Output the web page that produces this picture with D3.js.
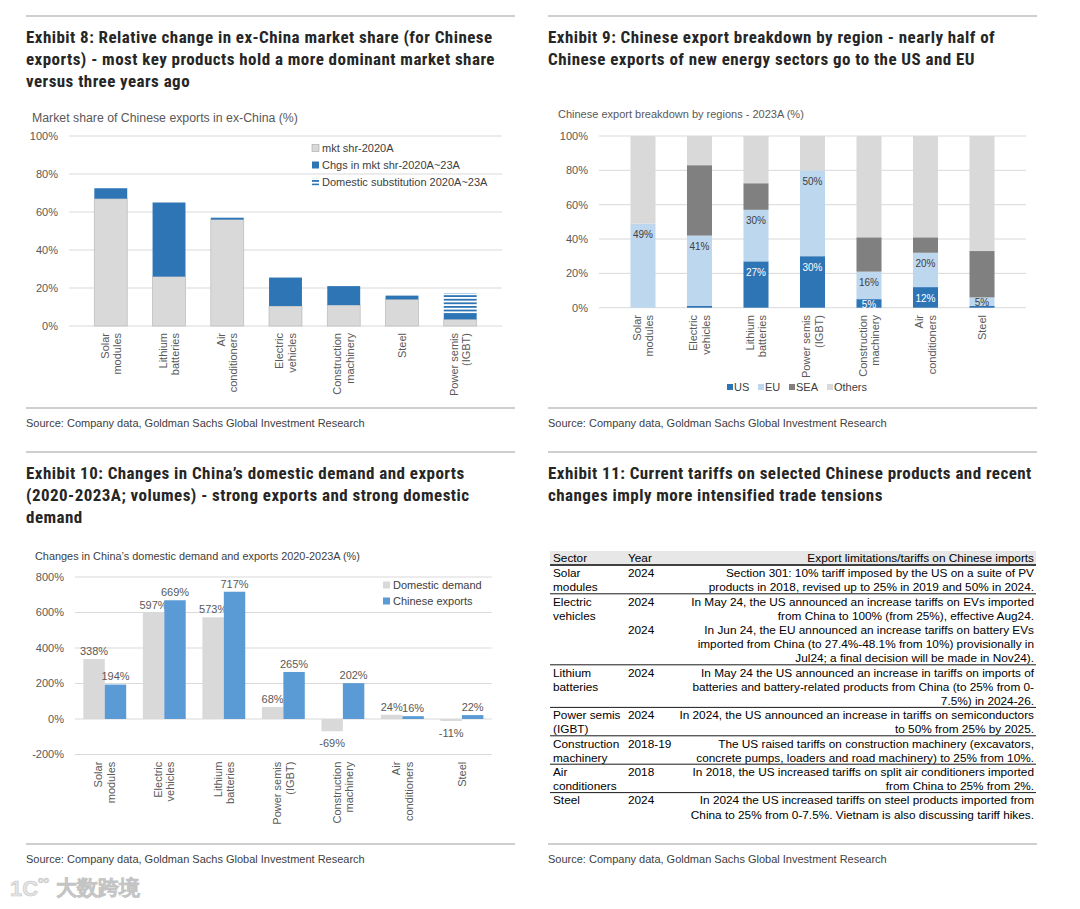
<!DOCTYPE html>
<html>
<head>
<meta charset="utf-8">
<script src="https://cdn.jsdelivr.net/npm/d3@7/dist/d3.min.js"></script>
<style>
  html, body { margin: 0; padding: 0; background: #fff; }
  svg { display: block; }
  text { font-family: "Liberation Sans", Arial, sans-serif; }
  .title { font-family: "Liberation Sans Narrow", "Roboto Condensed", "DejaVu Sans Condensed", sans-serif; font-weight: bold; font-size: 17px; letter-spacing: 0.45px; fill: #262626; }
</style>
</head>
<body>
<svg id="root" width="1080" height="909"></svg>
<script>
// ---------------- DATA ----------------
// Exhibit 8
const ex8Categories = [["Solar","modules"],["Lithium","batteries"],["Air","conditioners"],["Electric","vehicles"],["Construction","machinery"],["Steel"],["Power semis","(IGBT)"]];
const ex8Share2020 = [67, 26, 56, 10.5, 11, 14, 3.5];
const ex8Change = [5.5, 39, 1, 15, 10, 2, 3.3];
const ex8DomesticSub = [0, 0, 0, 0, 0, 0, 10.5];
const ex8Ticks = [0, 20, 40, 60, 80, 100];
const ex8Legend = ["mkt shr-2020A", "Chgs in mkt shr-2020A~23A", "Domestic substitution 2020A~23A"];

// Exhibit 9
const ex9Categories = [["Solar","modules"],["Electric","vehicles"],["Lithium","batteries"],["Power semis","(IGBT)"],["Construction","machinery"],["Air","conditioners"],["Steel"]];
const ex9US = [0, 1, 27, 30, 5, 12, 1];
const ex9EU = [49, 41, 30, 50, 16, 20, 5];
const ex9SEA = [0, 41, 15.5, 0, 20, 9, 27];
const ex9Others = [51, 17, 27.5, 20, 59, 59, 67];
const ex9Series = ["US", "EU", "SEA", "Others"];
const ex9Ticks = [0, 20, 40, 60, 80, 100];

// Exhibit 10
const ex10Categories = [["Solar","modules"],["Electric","vehicles"],["Lithium","batteries"],["Power semis","(IGBT)"],["Construction","machinery"],["Air","conditioners"],["Steel"]];
const ex10Domestic = [338, 597, 573, 68, -69, 24, -11];
const ex10Exports = [194, 669, 717, 265, 202, 16, 22];
const ex10Series = ["Domestic demand", "Chinese exports"];
const ex10Ticks = [-200, 0, 200, 400, 600, 800];

// Exhibit 11 (table)
const tableHeader = ["Sector", "Year", "Export limitations/tariffs on Chinese imports"];
const tableSectors = [["Solar","modules"],["Electric","vehicles"],["Lithium","batteries"],["Power semis","(IGBT)"],["Construction","machinery"],["Air","conditioners"],["Steel"]];
const tableEntries = [
  [{year:"2024", text:["Section 301: 10% tariff imposed by the US on a suite of PV","products in 2018, revised up to 25% in 2019 and 50% in 2024."]}],
  [{year:"2024", text:["In May 24, the US announced an increase tariffs on EVs imported","from China to 100% (from 25%), effective Aug24."]},
   {year:"2024", text:["In Jun 24, the EU announced an increase tariffs on battery EVs","imported from China (to 27.4%-48.1% from 10%) provisionally in","Jul24; a final decision will be made in Nov24)."]}],
  [{year:"2024", text:["In May 24 the US announced an increase in tariffs on imports of","batteries and battery-related products from China (to 25% from 0-","7.5%) in 2024-26."]}],
  [{year:"2024", text:["In 2024, the US announced an increase in tariffs on semiconductors","to 50% from 25% by 2025."]}],
  [{year:"2018-19", text:["The US raised tariffs on construction machinery (excavators,","concrete pumps, loaders and road machinery) to 25% from 10%."]}],
  [{year:"2018", text:["In 2018, the US increased tariffs on split air conditioners imported","from China to 25% from 2%."]}],
  [{year:"2024", text:["In 2024 the US increased tariffs on steel products imported from","China to 25% from 0-7.5%. Vietnam is also discussing tariff hikes."]}]
];

const titles = {
  ex8: ["Exhibit 8: Relative change in ex-China market share (for Chinese","exports) - most key products hold a more dominant market share","versus three years ago"],
  ex9: ["Exhibit 9: Chinese export breakdown by region - nearly half of","Chinese exports of new energy sectors go to the US and EU"],
  ex10: ["Exhibit 10: Changes in China\u2019s domestic demand and exports","(2020-2023A; volumes) - strong exports and strong domestic","demand"],
  ex11: ["Exhibit 11: Current tariffs on selected Chinese products and recent","changes imply more intensified trade tensions"]
};
const sourceText = "Source: Company data, Goldman Sachs Global Investment Research";

// ---------------- STYLE ----------------
const C = {
  gray: "#D9D9D9", blue: "#2E75B6", lightBlue: "#BDD7EE", sea: "#808080",
  blue10: "#5B9BD5", grid: "#D9D9D9", tick: "#595959", text: "#404040", rule: "#BFBFBF"
};
const svg = d3.select("#root");
const defs = svg.append("defs");
const pat = defs.append("pattern").attr("id","stripes").attr("patternUnits","userSpaceOnUse")
  .attr("width", 8).attr("height", 3.6);
pat.append("rect").attr("width",8).attr("height",3.6).attr("fill","#fff");
pat.append("rect").attr("width",8).attr("height",1.8).attr("fill",C.blue);

// ---------------- FRAME ----------------
function panelFrame(x0, x1, yTop, yBottom, titleLines, srcY) {
  svg.append("line").attr("x1",x0).attr("x2",x1).attr("y1",yTop).attr("y2",yTop)
    .attr("stroke",C.rule).attr("stroke-width",1.6);
  svg.append("line").attr("x1",x0).attr("x2",x1).attr("y1",yBottom).attr("y2",yBottom)
    .attr("stroke",C.rule).attr("stroke-width",1.6);
  const t = svg.append("text").attr("class","title");
  titleLines.forEach((l,i)=> t.append("tspan").attr("x",x0).attr("y",yTop + 27 + i*22).text(l));
  svg.append("text").attr("x",x0).attr("y",srcY).attr("font-size",11).attr("fill",C.text).text(sourceText);
}
panelFrame(26, 515, 16, 408, titles.ex8, 427);
panelFrame(548, 1037, 16, 408, titles.ex9, 427);
panelFrame(26, 515, 452, 844, titles.ex10, 863);
panelFrame(548, 1037, 452, 844, titles.ex11, 863);

function catLabels(g, x, cats, yTop, size) {
  cats.forEach((lines, i) => {
    const cx = x(i) + x.bandwidth()/2;
    const gg = g.append("g").attr("transform", `translate(${cx},${yTop}) rotate(-90)`);
    const n = lines.length;
    lines.forEach((l, j) => {
      const off = (j - (n-1)/2) * 12.5;
      gg.append("text").attr("x",0).attr("y", off + size*0.36).attr("text-anchor","end")
        .attr("font-size",size).attr("fill",C.tick).text(l);
    });
  });
}

function yAxis(g, y, ticks, xLeft, xRight, labelX, fmt, size) {
  ticks.forEach(t => {
    g.append("line").attr("x1",xLeft).attr("x2",xRight).attr("y1",y(t)).attr("y2",y(t))
      .attr("stroke",C.grid).attr("stroke-width",1);
    g.append("text").attr("x",labelX).attr("y",y(t)).attr("dy","0.35em").attr("text-anchor","end")
      .attr("font-size",size).attr("fill",C.tick).text(fmt(t));
  });
}

// ---------------- EXHIBIT 8 ----------------
{
  const g = svg.append("g");
  g.append("text").attr("x",32).attr("y",122).attr("font-size",12.3).attr("fill",C.tick)
    .text("Market share of Chinese exports in ex-China (%)");
  const x = d3.scaleBand().domain(d3.range(ex8Categories.length)).range([69, 502]).padding(0.435);
  const y = d3.scaleLinear().domain([0, 100]).range([326, 136]);
  yAxis(g, y, ex8Ticks, 69, 502, 58, d => d + "%", 11);
  const stack = d3.stack().keys(["a","b","c"])(ex8Share2020.map((v,i)=>({a:v, b:ex8Change[i], c:ex8DomesticSub[i]})));
  const fills = [C.gray, C.blue, "url(#stripes)"];
  stack.forEach((layer, k) => {
    g.selectAll(null).data(layer).join("rect")
      .attr("x", (d,i)=>x(i)).attr("width", x.bandwidth())
      .attr("y", d=>y(d[1])).attr("height", d=>Math.max(0, y(d[0])-y(d[1])))
      .attr("fill", fills[k]).attr("stroke", k===0 ? "#BFBFBF" : "none").attr("stroke-width",0.8);
  });
  catLabels(g, x, ex8Categories, 333, 11);
  ex8Legend.forEach((l,i)=>{
    const ly = 148 + i*17;
    g.append("rect").attr("x",312).attr("y",ly-3.5).attr("width",7).attr("height",7)
      .attr("fill", fills[i]).attr("stroke", i===0 ? "#A6A6A6" : "none").attr("stroke-width",0.6);
    g.append("text").attr("x",322).attr("y",ly).attr("dy","0.35em").attr("font-size",11).attr("fill",C.text).text(l);
  });
}

// ---------------- EXHIBIT 9 ----------------
{
  const g = svg.append("g");
  g.append("text").attr("x",558).attr("y",118).attr("font-size",11).attr("fill",C.tick)
    .text("Chinese export breakdown by regions - 2023A (%)");
  const x = d3.scaleBand().domain(d3.range(ex9Categories.length)).range([599, 1026]).padding(0.557);
  const y = d3.scaleLinear().domain([0, 100]).range([307.7, 136]);
  yAxis(g, y, ex9Ticks, 599, 1026, 588, d => d + "%", 11);
  const rows = ex9US.map((v,i)=>({US:v, EU:ex9EU[i], SEA:ex9SEA[i], Others:ex9Others[i]}));
  const stack = d3.stack().keys(ex9Series)(rows);
  const fills = [C.blue, C.lightBlue, C.sea, C.gray];
  stack.forEach((layer,k)=>{
    g.selectAll(null).data(layer).join("rect")
      .attr("x",(d,i)=>x(i)).attr("width",x.bandwidth())
      .attr("y",d=>y(d[1])).attr("height",d=>Math.max(0,y(d[0])-y(d[1])))
      .attr("fill",fills[k]);
  });
  // labels: US (>=5) and EU
  [0,1].forEach(k=>{
    stack[k].forEach((d,i)=>{
      const v = d[1]-d[0];
      if (k===0 && v < 5) return;
      const top = y(d[1]), bot = y(d[0]);
      const ly = Math.min(top + 11, (top+bot)/2 + 1);
      g.append("text").attr("x", x(i)+x.bandwidth()/2).attr("y", ly).attr("dy","0.35em")
        .attr("text-anchor","middle").attr("font-size",10)
        .attr("fill", k===0 ? "#fff" : "#404040").text(Math.round(v) + "%");
    });
  });
  catLabels(g, x, ex9Categories, 315, 11);
  const lx = [727, 758, 789, 827];
  ex9Series.forEach((s,i)=>{
    g.append("rect").attr("x",lx[i]).attr("y",384).attr("width",6).attr("height",6).attr("fill",fills[i]);
    g.append("text").attr("x",lx[i]+7).attr("y",387).attr("dy","0.35em").attr("font-size",11).attr("fill",C.text).text(s);
  });
}

// ---------------- EXHIBIT 10 ----------------
{
  const g = svg.append("g");
  g.append("text").attr("x",35).attr("y",560).attr("font-size",10.9).attr("fill",C.text)
    .text("Changes in China\u2019s domestic demand and exports 2020-2023A (%)");
  const x = d3.scaleBand().domain(d3.range(ex10Categories.length)).range([75, 491.7]).paddingInner(0.28).paddingOuter(0.14);
  const xs = d3.scaleBand().domain([0,1]).range([0, x.bandwidth()]);
  const y = d3.scaleLinear().domain([-200, 800]).range([754.5, 577]);
  yAxis(g, y, ex10Ticks, 75, 491.7, 64, d => d + "%", 11);
  const series = [ex10Domestic, ex10Exports];
  const fills = [C.gray, C.blue10];
  series.forEach((vals,k)=>{
    g.selectAll(null).data(vals).join("rect")
      .attr("x",(d,i)=>x(i)+xs(k)).attr("width",xs.bandwidth())
      .attr("y",d=>y(Math.max(0,d))).attr("height",d=>Math.abs(y(d)-y(0)))
      .attr("fill",fills[k]);
    g.selectAll(null).data(vals).join("text")
      .attr("x",(d,i)=>x(i)+xs(k)+xs.bandwidth()/2)
      .attr("y",d=> d>=0 ? y(d)-8 : y(d)+12).attr("dy","0.35em")
      .attr("text-anchor","middle").attr("font-size",11).attr("fill",C.tick)
      .text(d=>d+"%");
  });
  catLabels(g, x, ex10Categories, 761.7, 11);
  ex10Series.forEach((s,i)=>{
    const ly = 585 + i*16;
    g.append("rect").attr("x",383).attr("y",ly-3.5).attr("width",7).attr("height",7).attr("fill",fills[i]);
    g.append("text").attr("x",393).attr("y",ly).attr("dy","0.35em").attr("font-size",11).attr("fill",C.text).text(s);
  });
}

// ---------------- EXHIBIT 11 TABLE ----------------
{
  const g = svg.append("g");
  const xL = 550, xR = 1036, colSector = 553, colYear = 628, colText = 1034;
  const lineStep = 14.2, firstLine = 573;
  g.append("rect").attr("x",xL).attr("y",551).attr("width",xR-xL).attr("height",13).attr("fill","#E7E7E7");
  g.append("line").attr("x1",xL).attr("x2",xR).attr("y1",565).attr("y2",565).attr("stroke","#000").attr("stroke-width",1.4);
  const fs = 11.8;
  g.append("text").attr("x",colSector).attr("y",558).attr("dy","0.35em").attr("font-size",fs).attr("fill","#000").text(tableHeader[0]);
  g.append("text").attr("x",colYear).attr("y",558).attr("dy","0.35em").attr("font-size",fs).attr("fill","#000").text(tableHeader[1]);
  g.append("text").attr("x",colText).attr("y",558).attr("dy","0.35em").attr("text-anchor","end").attr("font-size",fs).attr("fill","#000").text(tableHeader[2]);
  let line = 0;
  tableEntries.forEach((entries, r) => {
    const yl = n => firstLine + n*lineStep;
    if (r > 0) {
      const sy = (yl(line-1) + yl(line))/2 - 0.5;
      g.append("line").attr("x1",xL).attr("x2",xR).attr("y1",sy).attr("y2",sy).attr("stroke","#000").attr("stroke-width",0.9);
    }
    tableSectors[r].forEach((s,j)=>{
      g.append("text").attr("x",colSector).attr("y",yl(line+j)).attr("dy","0.35em").attr("font-size",fs).attr("fill","#000").text(s);
    });
    entries.forEach(e => {
      g.append("text").attr("x",colYear).attr("y",yl(line)).attr("dy","0.35em").attr("font-size",fs).attr("fill","#000").text(e.year);
      e.text.forEach((t,j)=>{
        g.append("text").attr("x",colText).attr("y",yl(line+j)).attr("dy","0.35em").attr("text-anchor","end")
          .attr("font-size",fs).attr("fill","#000").text(t);
      });
      line += e.text.length;
    });
    const used = entries.reduce((a,e)=>a+e.text.length,0);
    if (tableSectors[r].length > used) line += tableSectors[r].length - used;
  });
}

// ---------------- WATERMARK ----------------
{
  const g = svg.append("g").attr("font-weight","bold");
  g.append("text").attr("x",10).attr("y",896).attr("font-size",22).attr("fill","#e4e4e4")
    .attr("stroke","#c8c8c8").attr("stroke-width",0.6).text("1C");
  g.append("text").attr("x",38).attr("y",883).attr("font-size",9).attr("fill","#e4e4e4")
    .attr("stroke","#c8c8c8").attr("stroke-width",0.6).text("oo");
  g.append("text").attr("x",56).attr("y",895).attr("font-size",21).attr("fill","#e8e8e8")
    .attr("stroke","#c4c4c4").attr("stroke-width",0.6)
    .attr("font-family","'Noto Sans CJK SC', sans-serif").text("大数跨境");
}
</script>
</body>
</html>
